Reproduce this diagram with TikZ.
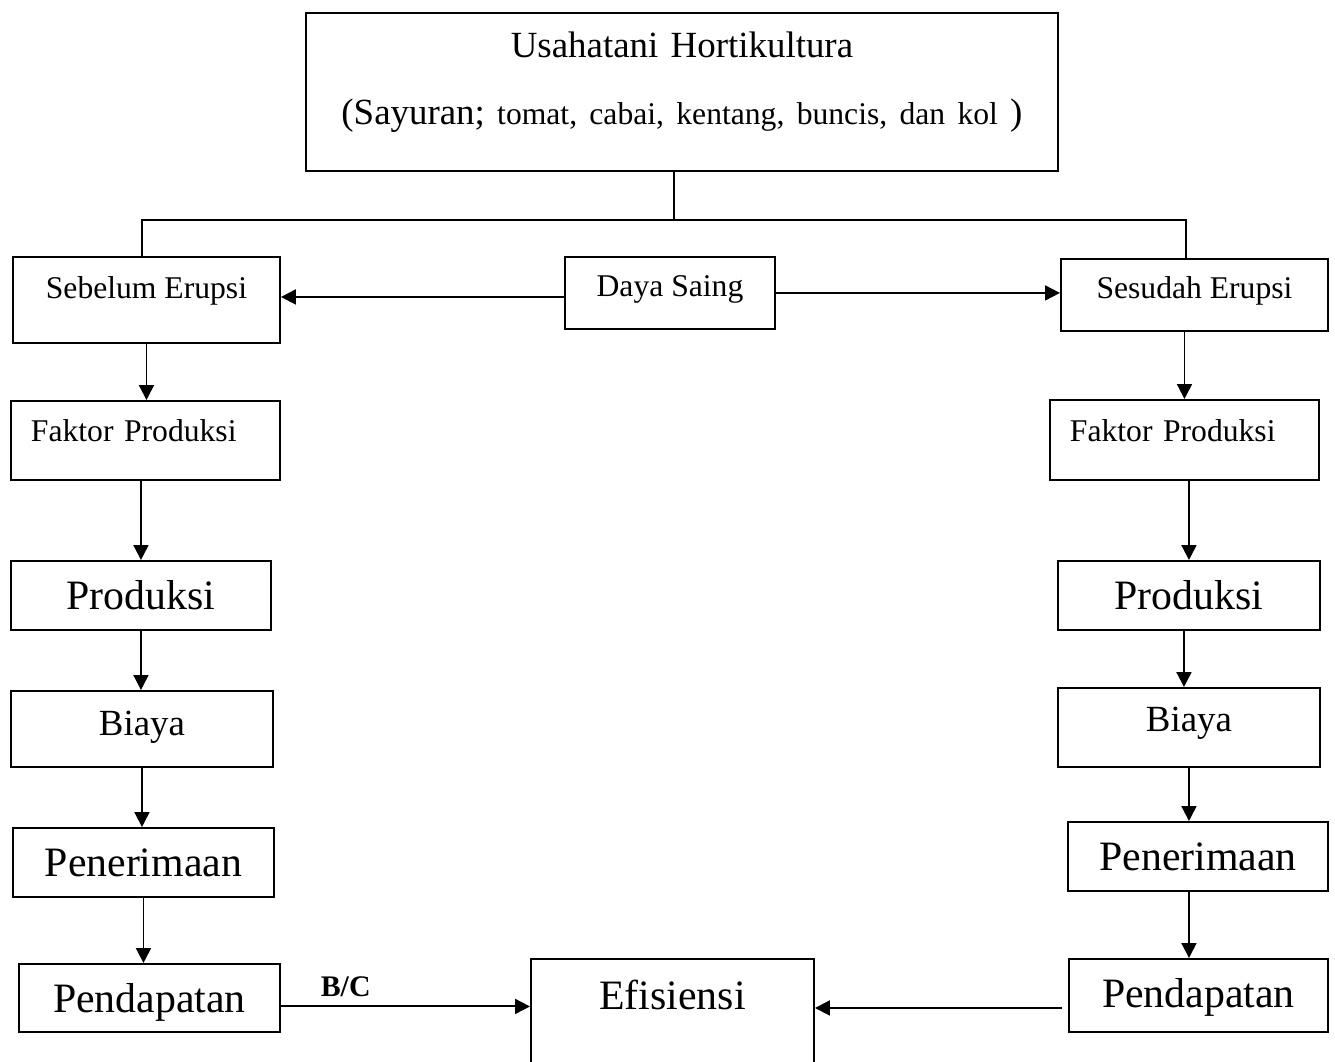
\documentclass[tikz,border=0pt]{standalone}
\usepackage{fontspec}
\setmainfont{Liberation Serif}
\usetikzlibrary{arrows.meta}

\begin{document}
\begin{tikzpicture}[
    x = 0.2mm, y = -0.2mm,
    line width = 1.1pt,
    arr/.style = {-{Triangle[length=3mm, width=3mm]}},
    block/.style = {draw, inner sep=0pt, anchor=north west},
    smalltext/.style = {font=\fontsize{18}{22}\selectfont},
    midtext/.style = {font=\fontsize{21}{25}\selectfont},
    bigtext/.style = {font=\fontsize{23.8}{28}\selectfont}
]
\useasboundingbox (0,0) rectangle (1335,1062);
\clip (0,0) rectangle (1335,1062);

% Top
\node[block, text width=150.4mm, align=center, text height=9mm, text depth=22.6mm,
      font=\fontsize{21}{38}\selectfont] (usahatani) at (305,12)
    {Usahatani Hortikultura\\(Sayuran; {\fontsize{18}{22}\selectfont tomat, cabai, kentang, buncis, dan kol} )};

% Middle row
\node[block, smalltext, minimum width=53.4mm, text height=8.4mm, text depth=8.8mm] (sebelum) at (12,256) {Sebelum Erupsi};
\node[block, smalltext, minimum width=42mm, text height=8mm, text depth=6.4mm] (dayasaing) at (564,256) {Daya Saing};
\node[block, smalltext, minimum width=53.4mm, text height=8mm, text depth=6.4mm] (sesudah) at (1060,258) {Sesudah Erupsi};

% Left column
\node[block, smalltext, inner xsep=4mm, text width=45.8mm, align=left, text height=8.2mm, text depth=7.6mm] (faktorL) at (10,400) {Faktor Produksi};
\node[block, bigtext, minimum width=52mm, text height=9.8mm, text depth=4mm] (produksiL) at (10,560) {Produksi};
\node[block, midtext, minimum width=52.4mm, text height=9mm, text depth=6.2mm] (biayaL) at (10,690) {Biaya};
\node[block, bigtext, minimum width=52.2mm, text height=9.8mm, text depth=4mm] (penerimaanL) at (12,827) {Penerimaan};
\node[block, bigtext, minimum width=52.2mm, text height=9.8mm, text depth=3.8mm] (pendapatanL) at (18,963) {Pendapatan};

% Right column
\node[block, smalltext, inner xsep=4mm, text width=45.8mm, align=left, text height=8.4mm, text depth=7.6mm] (faktorR) at (1049,399) {Faktor Produksi};
\node[block, bigtext, minimum width=52.4mm, text height=9.8mm, text depth=4mm] (produksiR) at (1057,560) {Produksi};
\node[block, midtext, minimum width=52.4mm, text height=8.8mm, text depth=7mm] (biayaR) at (1057,687) {Biaya};
\node[block, bigtext, minimum width=52mm, text height=9.8mm, text depth=4mm] (penerimaanR) at (1067,821) {Penerimaan};
\node[block, bigtext, minimum width=51.8mm, text height=9.8mm, text depth=4.8mm] (pendapatanR) at (1068,958) {Pendapatan};

% Bottom
\node[block, bigtext, minimum width=56.6mm, text height=10.2mm, text depth=13.8mm] (efisiensi) at (530,958) {Efisiensi};

% Tree lines
\coordinate (bar) at (674,220);
\draw (usahatani.south -| bar) -- (bar);
\draw ([xshift=-0.9mm]sebelum.north) |- (bar) -| ([xshift=-1.7mm]sesudah.north);

% Daya saing arrows
\draw[arr] (dayasaing.base west) -- (dayasaing.base west -| sebelum.east);
\draw[arr] (dayasaing.mid east) -- (dayasaing.mid east -| sesudah.west);

% Left arrows
\draw[arr] (sebelum) -- (sebelum |- faktorL.north);
\draw[arr] (faktorL.south -| produksiL) -- (produksiL);
\draw[arr] (produksiL) -- (produksiL |- biayaL.north);
\draw[arr] (biayaL) -- (biayaL |- penerimaanL.north);
\draw[arr] (penerimaanL) -- (penerimaanL |- pendapatanL.north);

% Right arrows
\draw[arr] (sesudah.south -| faktorR) -- (faktorR);
\draw[arr] (faktorR.south -| produksiR) -- (produksiR);
\draw[arr] ([xshift=-1mm]produksiR.south) -- ([xshift=-1mm]produksiR.south |- biayaR.north);
\draw[arr] (biayaR) -- (biayaR |- penerimaanR.north);
\draw[arr] ([xshift=-1.8mm]penerimaanR.south) -- ([xshift=-1.8mm]penerimaanR.south |- pendapatanR.north);

% To efisiensi
\draw[arr] ([yshift=0.5mm]pendapatanL.mid east) -- ([yshift=0.5mm]pendapatanL.mid east -| efisiensi.west)
    node[pos=0.26, above, yshift=0.6mm, font=\fontsize{17}{20}\selectfont\bfseries] {B/C};
\draw[arr, shorten <=1.2mm] (pendapatanR.base west) -- (pendapatanR.base west -| efisiensi.east);

\end{tikzpicture}
\end{document}
